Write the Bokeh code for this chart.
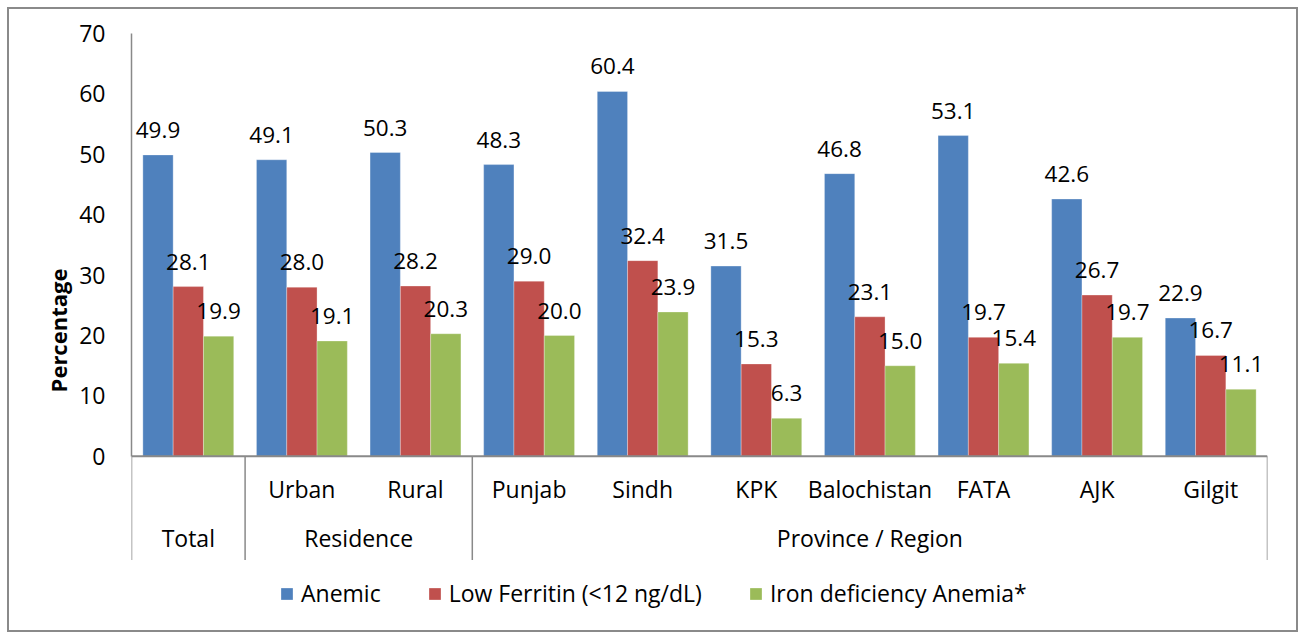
from bokeh.plotting import figure
from bokeh.models import ColumnDataSource, Range1d, FixedTicker, Legend, LegendItem
from bokeh.core.properties import value
from bokeh.embed import file_html
from bokeh.resources import INLINE

# ---- data ----
subcategories = ["", "Urban", "Rural", "Punjab", "Sindh", "KPK", "Balochistan", "FATA", "AJK", "Gilgit"]
groups = ["Total", "Residence", "Province / Region"]
group_sizes = [1, 2, 7]
series_names = ["Anemic", "Low Ferritin (<12 ng/dL)", "Iron deficiency Anemia*"]
anemic = [49.9, 49.1, 50.3, 48.3, 60.4, 31.5, 46.8, 53.1, 42.6, 22.9]
low_ferritin = [28.1, 28.0, 28.2, 29.0, 32.4, 15.3, 23.1, 19.7, 26.7, 16.7]
ida = [19.9, 19.1, 20.3, 20.0, 23.9, 6.3, 15.0, 15.4, 19.7, 11.1]
y_ticks = [0, 10, 20, 30, 40, 50, 60, 70]

colors = ["#4F81BD", "#C0504D", "#9BBB59"]
FONT = "Open Sans"
AXIS_COLOR = "#898989"

n = len(subcategories)
px_per_unit = 6.0
table_depth = 103 / px_per_unit   # depth of the category table below zero
frame_depth = 170 / px_per_unit   # frame extends down to hold the legend

p = figure(width=1291, height=625, output_backend="svg", toolbar_location=None,
           x_range=Range1d(0, n), y_range=Range1d(-frame_depth, 70),
           x_axis_location=None, min_border_left=122, min_border_right=33,
           min_border_top=24, min_border_bottom=7)
p.styles = {"border": "2px solid #8a8a8a", "margin-left": "7px", "margin-top": "7px",
            "box-sizing": "border-box"}
p.outline_line_color = None
p.xgrid.visible = False
p.ygrid.visible = False
p.background_fill_color = "white"
p.border_fill_color = "white"

# y axis
yax = p.yaxis[0]
yax.ticker = FixedTicker(ticks=y_ticks)
yax.bounds = (min(y_ticks), max(y_ticks))
yax.axis_line_color = AXIS_COLOR
yax.axis_line_width = 1.5
yax.major_tick_line_color = None
yax.minor_tick_line_color = None
yax.major_label_standoff = 20
yax.major_label_text_font = FONT
yax.major_label_text_font_size = "23px"
yax.major_label_text_color = "black"
yax.axis_label = "Percentage"
yax.axis_label_text_font = FONT
yax.axis_label_text_font_style = "bold"
yax.axis_label_text_font_size = "22px"
yax.axis_label_text_color = "black"
yax.axis_label_standoff = 3

# bars
w = 1 / 3.75
centers = [i + 0.5 for i in range(n)]
renderers = []
for k, (vals, col) in enumerate(zip([anemic, low_ferritin, ida], colors)):
    xs = [c + (k - 1) * w for c in centers]
    src = ColumnDataSource(dict(x=xs, top=vals, lab=[f"{v:.1f}" for v in vals]))
    r = p.vbar(x="x", top="top", bottom=0, width=w, source=src,
               fill_color=col, line_color="white", line_alpha=0.6, line_width=0.5)
    renderers.append(r)
    p.text(x="x", y="top", text="lab", source=src, text_align="center",
           text_baseline="alphabetic", y_offset=-25, text_font=value(FONT),
           text_font_size="22.5px", text_color="black")

# category table lines
bounds = [0]
for s in group_sizes:
    bounds.append(bounds[-1] + s)
p.segment(x0=bounds, y0=[0] * len(bounds), x1=bounds, y1=[-table_depth] * len(bounds),
          line_color=AXIS_COLOR, line_width=1.5)
p.segment(x0=[0], y0=[0], x1=[n], y1=[0], line_color=AXIS_COLOR, line_width=2)

# sub-category labels
p.text(x=centers, y=[-32 / px_per_unit] * n, text=subcategories, text_align="center",
       text_baseline="middle", text_font=value(FONT), text_font_size="23px", text_color="black")
# group labels
gx = [(bounds[i] + bounds[i + 1]) / 2 for i in range(len(groups))]
p.text(x=gx, y=[-81 / px_per_unit] * len(groups), text=groups, text_align="center",
       text_baseline="middle", text_font=value(FONT), text_font_size="23px", text_color="black")

legend = Legend(items=[LegendItem(label=nm, renderers=[r]) for nm, r in zip(series_names, renderers)],
                orientation="horizontal", location=(148, 18), padding=0, margin=0,
                spacing=46, label_standoff=7, glyph_width=15, glyph_height=15,
                label_text_font=FONT, label_text_font_size="23px", label_text_color="black",
                border_line_color=None, background_fill_alpha=0)
p.add_layout(legend, "center")

open("out.html", "w").write(file_html(p, INLINE))
